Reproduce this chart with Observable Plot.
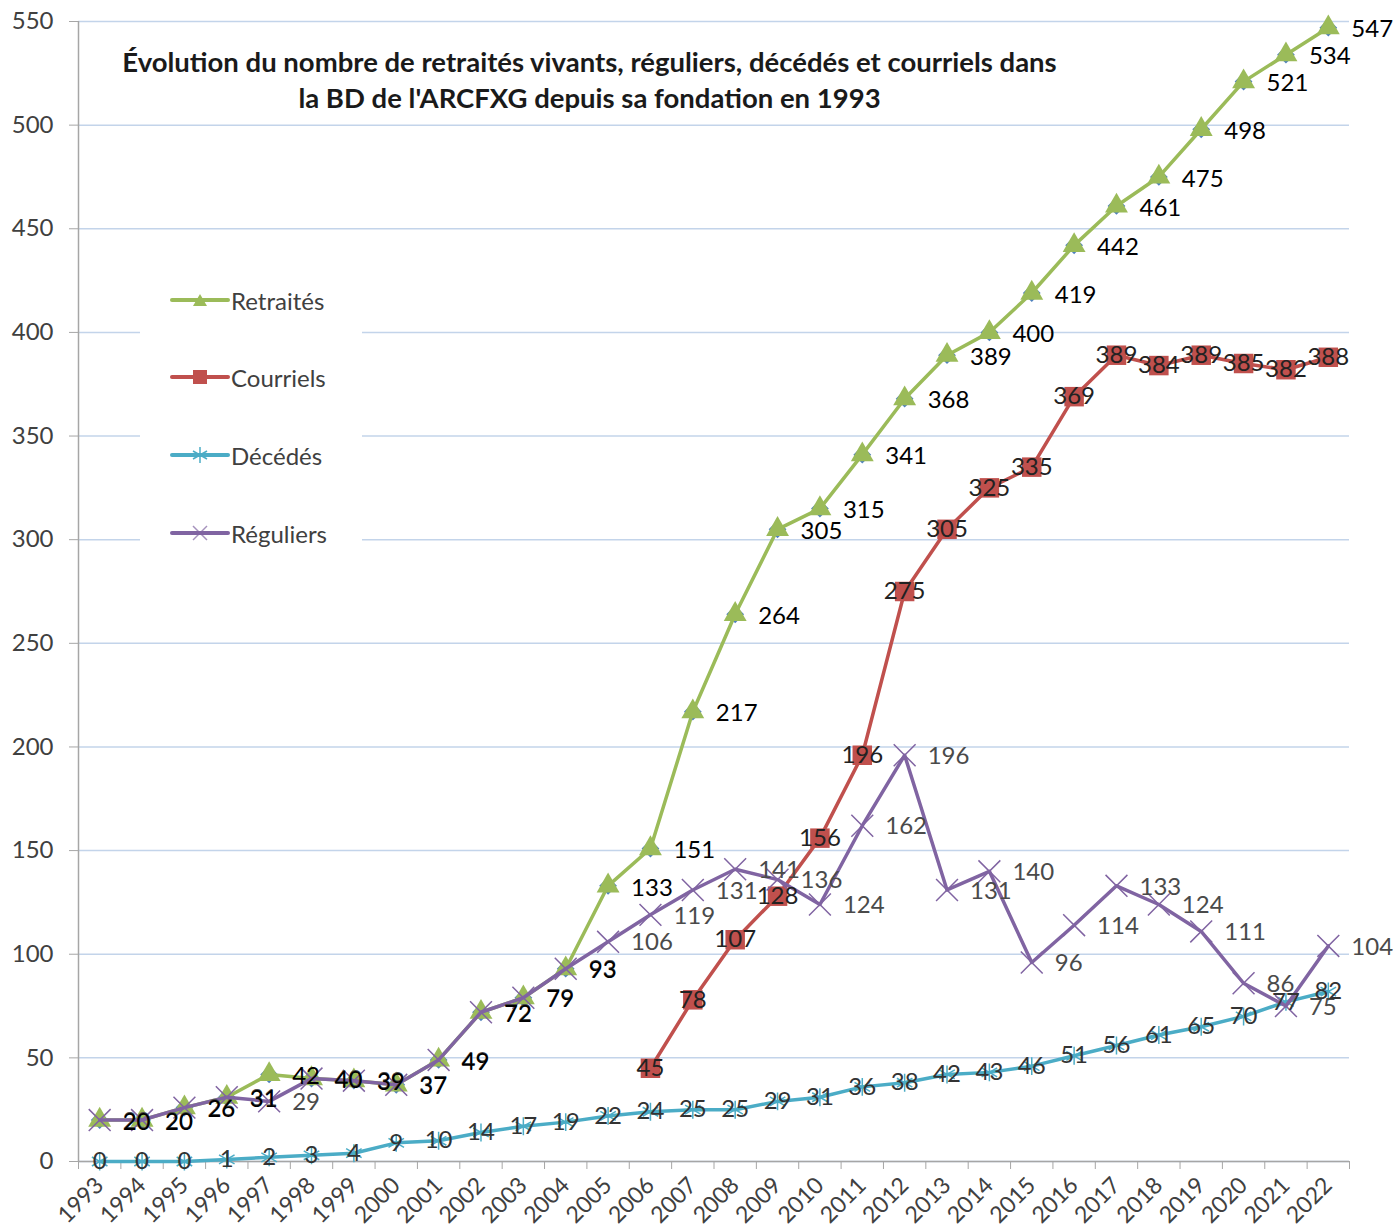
<!DOCTYPE html>
<html><head><meta charset="utf-8">
<script src="https://cdn.jsdelivr.net/npm/d3@7"></script>
<script src="https://cdn.jsdelivr.net/npm/@observablehq/plot@0.6"></script>
<style>
body{margin:0;background:#fff;}
#wrap{position:relative;width:1397px;height:1229px;font-family:Lato,sans-serif;}
#legend{position:absolute;left:140px;top:268px;width:222px;height:294px;background:#fff;}
.item{position:absolute;left:30px;height:30px;display:flex;align-items:center;font-size:24px;color:#404040;white-space:nowrap;}
.item svg{margin-right:1px;}
</style></head><body><div id="wrap"><div id="chart"></div><div id="legend"></div></div>
<script>
const years = [1993,1994,1995,1996,1997,1998,1999,2000,2001,2002,2003,2004,2005,2006,2007,2008,2009,2010,2011,2012,2013,2014,2015,2016,2017,2018,2019,2020,2021,2022];
const retraites = [20,20,26,31,42,40,39,37,49,72,79,93,133,151,217,264,305,315,341,368,389,400,419,442,461,475,498,521,534,547];
const courriels = [null,null,null,null,null,null,null,null,null,null,null,null,null,45,78,107,128,156,196,275,305,325,335,369,389,384,389,385,382,388];
const deces = [0,0,0,1,2,3,4,9,10,14,17,19,22,24,25,25,29,31,36,38,42,43,46,51,56,61,65,70,77,82];
const reguliers = [20,20,26,31,29,40,39,37,49,72,79,93,106,119,131,141,136,124,162,196,131,140,96,114,133,124,111,86,75,104];
const yTicks = [0,50,100,150,200,250,300,350,400,450,500,550];
const seriesNames = ["Retraités","Courriels","Décédés","Réguliers"];
const colors = ["#9BBB59","#C0504D","#4BACC6","#8064A2"];
const titleLines = ["Évolution du nombre de retraités vivants, réguliers, décédés et courriels dans","la BD de l'ARCFXG depuis sa fondation en 1993"];

const rows = years.map((y,i)=>({year:y, retraites:retraites[i], courriels:courriels[i], deces:deces[i], reguliers:reguliers[i]}));
const courrielRows = rows.filter(d=>d.courriels!=null);
const bounds = years.map(y=>y-0.5).concat([years[years.length-1]+0.5]);

const W=1397,H=1229;
const chart = Plot.plot({
  width:W, height:H,
  marginLeft:78, marginRight:48, marginTop:21, marginBottom:68,
  style:{fontFamily:"Lato, sans-serif", background:"#fff", overflow:"visible"},
  x:{type:"linear", domain:[bounds[0], bounds[bounds.length-1]], axis:null},
  y:{domain:[0,550], axis:null},
  marks:[
    Plot.gridY(yTicks, {stroke:"#C3D4EA", strokeOpacity:1, strokeWidth:1.5}),
    Plot.ruleX([bounds[0]], {stroke:"#A6A6A6", strokeWidth:1.5}),
    Plot.ruleY([0], {stroke:"#A6A6A6", strokeWidth:1.5}),
    Plot.axisY(yTicks, {tickSize:9, tickPadding:16, fontSize:24, stroke:"#A6A6A6", fill:"#404040", tickFormat:d=>String(d), label:null}),
    Plot.axisX(bounds, {tickSize:8, stroke:"#A6A6A6", tickFormat:()=>"", label:null}),
    Plot.axisX(years, {tickSize:0, tickPadding:20, tickRotate:-45, fontSize:23, fill:"#404040", tickFormat:d=>String(d), label:null}),
    // Retraités
    Plot.dot(rows, {x:"year", y:"retraites", symbol:"diamond2", r:8, fill:"#4F81BD"}),
    Plot.lineY(rows, {x:"year", y:"retraites", stroke:colors[0], strokeWidth:3.5}),
    Plot.dot(rows, {x:"year", y:"retraites", symbol:"triangle", r:8.5, fill:colors[0]}),
    // Courriels
    Plot.lineY(courrielRows, {x:"year", y:"courriels", stroke:colors[1], strokeWidth:3.5}),
    Plot.dot(courrielRows, {x:"year", y:"courriels", symbol:"square", r:11, fill:colors[1]}),
    // Décédés
    Plot.lineY(rows, {x:"year", y:"deces", stroke:colors[2], strokeWidth:3.5}),
    Plot.dot(rows, {x:"year", y:"deces", symbol:"asterisk", r:8.5, stroke:colors[2], strokeWidth:1.5}),
    // Réguliers
    Plot.lineY(rows, {x:"year", y:"reguliers", stroke:colors[3], strokeWidth:3.5}),
    Plot.dot(rows, {x:"year", y:"reguliers", symbol:"times", r:10, stroke:colors[3], strokeWidth:1.5}),
    // labels
    Plot.text(rows, {x:"year", y:"reguliers", text:d=>String(d.reguliers), textAnchor:"start", dx:23, dy:1, fontSize:24, fill:"#4a4a4a"}),
    Plot.text(rows, {x:"year", y:"retraites", text:d=>String(d.retraites), textAnchor:"start", dx:23, dy:2, fontSize:24, fill:"#000"}),
    Plot.text(courrielRows, {x:"year", y:"courriels", text:d=>String(d.courriels), fontSize:24, fill:"#222"}),
    Plot.text(rows, {x:"year", y:"deces", text:d=>String(d.deces), fontSize:24, fill:"#333"}),
    // title
    Plot.text([titleLines.join("\n")], {frameAnchor:"top-left", dx:511, dy:25, textAnchor:"middle", lineAnchor:"top", lineHeight:1.31, fontSize:27.5, fontWeight:"bold", fill:"#1a1a1a"})
  ]
});
document.getElementById("chart").appendChild(chart);

// legend
const leg = document.getElementById("legend");
const legendY = [32,109,187,265];
const markerSvg = [
  c=>`<polygon points="30,5 37,17 23,17" fill="${c}"/>`,
  c=>`<rect x="23" y="4" width="14" height="14" fill="${c}"/>`,
  c=>`<g stroke="${c}" stroke-width="1.5"><line x1="30" y1="3" x2="30" y2="19"/><line x1="23" y1="7" x2="37" y2="15"/><line x1="23" y1="15" x2="37" y2="7"/></g>`,
  c=>`<g stroke="${c}" stroke-width="1.5" opacity="0.7"><line x1="23" y1="4" x2="37" y2="18"/><line x1="23" y1="18" x2="37" y2="4"/></g>`
];
seriesNames.forEach((name,i)=>{
  const div = document.createElement("div");
  div.className="item";
  div.style.top = (legendY[i]-15)+"px";
  div.innerHTML = `<svg width="60" height="22" viewBox="0 0 60 22"><line x1="2" y1="11" x2="58" y2="11" stroke="${colors[i]}" stroke-width="4" stroke-linecap="round"/>${markerSvg[i](colors[i])}</svg><span>${name}</span>`;
  leg.appendChild(div);
});
</script></body></html>
